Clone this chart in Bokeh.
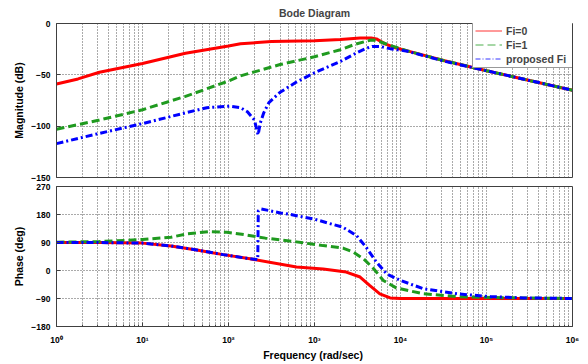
from bokeh.plotting import figure
from bokeh.layouts import column
from bokeh.models import FixedTicker, Legend, LegendItem, Range1d
from bokeh.embed import file_html
from bokeh.resources import INLINE

FONT = "Liberation Sans"

# ---------------- data ----------------
decades = [1, 10, 100, 1000, 10000, 100000, 1000000]
decade_labels = ["10\u2070", "10\u00b9", "10\u00b2", "10\u00b3", "10\u2074", "10\u2075", "10\u2076"]
minor_mult = [2, 3, 4, 5, 6, 7, 8, 9]
mag_ticks = [-150, -100, -50, 0]
phase_ticks = [-180, -90, 0, 90, 180, 270]

title_text = "Bode Diagram"
series_names = ["Fi=0", "Fi=1", "proposed Fi"]

# magnitude (dB)
f_mag_fi0 = [1, 1.78, 3.16, 10, 31.6, 100, 138, 316, 1000, 2000, 3390, 4570, 5250,
             6610, 8710, 12000, 31600, 100000, 316000, 1000000]
mag_fi0 = [-59, -54, -47.5, -39, -29, -22, -19.8, -17.6, -16.7, -15.7, -14.2, -14.2, -15,
           -19.8, -23.6, -26.7, -36, -46, -55.5, -65]

f_mag_fi1 = [1, 3.16, 10, 31.6, 100, 138, 398, 1000, 2000, 3020, 4570, 5250, 7590,
             12000, 31600, 100000, 316000, 1000000]
mag_fi1 = [-103, -94, -84, -71, -56, -51, -40, -32.4, -25.5, -20, -16, -16.5, -21.4,
           -26.7, -36, -46, -55.5, -65]

f_mag_prop = [1, 3.16, 10, 31.6, 56, 105, 138, 166, 200, 221, 234, 257, 295, 398, 603,
              1000, 2000, 3020, 3890, 4680, 5890, 7590, 12000, 31600, 100000, 316000, 1000000]
mag_prop = [-117, -107, -97.5, -87, -82, -80.5, -82, -86, -94, -108.5, -97, -87, -77, -67, -57.5,
            -48, -37, -29, -24.5, -22.3, -22.5, -24.5, -27, -36.5, -46, -55.5, -65]

# phase (deg)
f_ph_fi0 = [1, 3.16, 10, 21.4, 42.7, 87, 178, 617, 1260, 2340, 3390, 4370, 5750, 7590,
            10000, 100000, 1000000]
ph_fi0 = [90, 90, 88, 79, 66, 51, 37.5, 11, 5, -5, -21, -48, -75, -88, -90, -90, -90]

f_ph_fi1 = [1, 3.16, 10, 21.4, 33.1, 58.9, 95.5, 158, 269, 617, 1260, 2140, 2820, 3720,
            4900, 6310, 8910, 18600, 45700, 112000, 1000000]
ph_fi1 = [91, 93, 99.6, 107, 118, 125, 123, 114.6, 104, 92, 80, 72, 59, 37.5,
          5, -32, -56, -75, -84, -87, -90]

f_ph_prop = [1, 3.16, 10, 21.4, 42.7, 87, 178, 219, 222, 240, 400, 525, 1000, 1410, 2140,
             3090, 3980, 5250, 6920, 10000, 18600, 45700, 112000, 269000, 1000000]
ph_prop = [90, 90, 88, 79, 66, 51, 37.5, 35, 192, 198, 185, 180, 165, 153, 139,
           112, 75, 27, -11, -32, -59, -75, -84, -88, -90]

# ---------------- styling ----------------
RED = "#ff0000"
GREEN = "#1f9a1f"
BLUE = "#0000ff"
AX = "#404040"
GRID = "#555555"
NAN = float("nan")

minor_ticks = [d * m for d in decades[:-1] for m in minor_mult]
x_range = Range1d(decades[0], decades[-1])


def style(p, yticks):
    p.background_fill_color = "white"
    p.border_fill_color = "white"
    p.outline_line_color = AX
    p.outline_line_width = 1
    p.xaxis.ticker = FixedTicker(ticks=decades, minor_ticks=minor_ticks)
    p.yaxis.ticker = FixedTicker(ticks=yticks)
    p.xgrid.ticker = FixedTicker(ticks=decades, minor_ticks=minor_ticks)
    p.axis.axis_line_color = AX
    p.axis.major_tick_line_color = AX
    p.axis.minor_tick_line_color = AX
    p.axis.major_tick_in = 4
    p.axis.major_tick_out = 0
    p.axis.minor_tick_in = 2
    p.axis.minor_tick_out = 0
    p.axis.major_label_text_font = FONT
    p.axis.major_label_text_font_size = "8.5px"
    p.axis.major_label_text_font_style = "bold"
    p.axis.major_label_text_color = "black"
    p.axis.axis_label_text_font = FONT
    p.axis.axis_label_text_font_size = "10.5px"
    p.axis.axis_label_text_font_style = "bold"
    p.axis.axis_label_text_color = "black"
    p.yaxis.major_label_standoff = 6
    p.yaxis.axis_label_standoff = 3
    p.xgrid.grid_line_color = GRID
    p.xgrid.grid_line_dash = "1 2"
    p.xgrid.minor_grid_line_color = GRID
    p.xgrid.minor_grid_line_dash = "1 2"
    p.ygrid.grid_line_color = GRID
    p.ygrid.grid_line_dash = "1 2"


mag = figure(width=588, height=181, x_axis_type="log", x_range=x_range,
             y_range=Range1d(mag_ticks[0], mag_ticks[-1]),
             title=title_text,
             output_backend="svg", toolbar_location=None,
             min_border_left=56, min_border_right=16, min_border_top=19, min_border_bottom=4)
style(mag, mag_ticks)
mag.title.align = "center"
mag.title.text_font = FONT
mag.title.text_font_size = "10.5px"
mag.title.text_font_style = "bold"
mag.title.standoff = 9
mag.yaxis.axis_label = "Magnitude (dB)"
mag.xaxis.visible = False

mag.line(f_mag_fi0, mag_fi0, line_color=RED, line_width=3)
mag.line(f_mag_fi1, mag_fi1, line_color=GREEN, line_width=3, line_dash="8 4")
mag.line(f_mag_prop, mag_prop, line_color=BLUE, line_width=3, line_dash="7 3 2 3")

# thin legend proxies (no visible data)
lp0 = mag.line([NAN], [NAN], line_color=RED, line_width=0.8)
lp1 = mag.line([NAN], [NAN], line_color=GREEN, line_width=0.8, line_dash="8 4")
lp2 = mag.line([NAN], [NAN], line_color=BLUE, line_width=0.8, line_dash="5 2 1 2")
legend = Legend(items=[LegendItem(label=series_names[0], renderers=[lp0], index=0),
                       LegendItem(label=series_names[1], renderers=[lp1], index=0),
                       LegendItem(label=series_names[2], renderers=[lp2], index=0)],
                location=(416, 109))
legend.label_text_font = FONT
legend.label_text_font_size = "10.5px"
legend.label_text_font_style = "bold"
legend.glyph_width = 27
legend.glyph_height = 13
legend.label_height = 13
legend.label_width = 64
legend.label_standoff = 4
legend.padding = 2
legend.spacing = 1
legend.margin = 0
legend.border_line_color = "#333333"
legend.border_line_width = 1
legend.background_fill_color = "white"
legend.background_fill_alpha = 1
mag.add_layout(legend)

ph = figure(width=588, height=183, x_axis_type="log", x_range=x_range,
            y_range=Range1d(phase_ticks[0], phase_ticks[-1]),
            output_backend="svg", toolbar_location=None,
            min_border_left=56, min_border_right=16, min_border_top=5, min_border_bottom=38)
style(ph, phase_ticks)
ph.yaxis.axis_label = "Phase (deg)"
ph.xaxis.axis_label = "Frequency  (rad/sec)"
ph.xaxis.major_label_overrides = {d: lab for d, lab in zip(decades, decade_labels)}
ph.xaxis.major_label_standoff = 8
ph.xaxis.axis_label_standoff = 1

ph.line(f_ph_fi0, ph_fi0, line_color=RED, line_width=3)
ph.line(f_ph_fi1, ph_fi1, line_color=GREEN, line_width=3, line_dash="8 4")
ph.line(f_ph_prop, ph_prop, line_color=BLUE, line_width=3, line_dash="7 3 2 3")

layout = column(mag, ph, spacing=0)
open("out.html", "w").write(file_html(layout, INLINE))
